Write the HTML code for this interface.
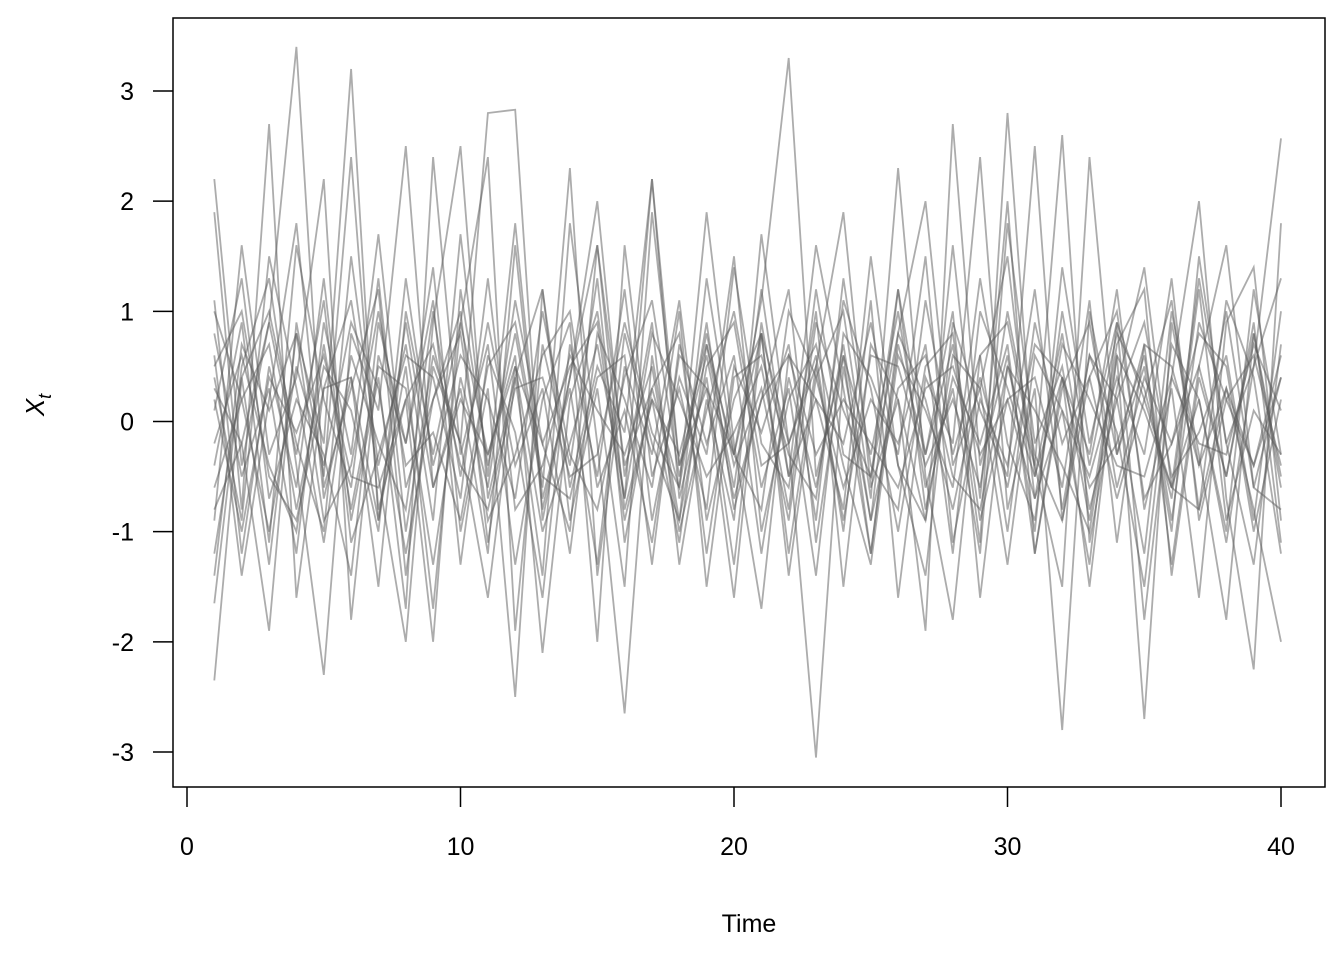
<!DOCTYPE html>
<html><head><meta charset="utf-8"><style>
body{margin:0;background:#fff}
svg text{font-family:"Liberation Sans",Arial,sans-serif;fill:#000}
</style></head><body>
<svg id="chart" width="1344" height="960">
<rect x="173" y="18" width="1152" height="769" fill="none" stroke="#000" stroke-width="1.5"/>
<g id="lines"></g>
<g id="axes"></g>
<text x="749" y="932" font-size="25" text-anchor="middle">Time</text>
<text transform="translate(44,405) rotate(-90)" font-size="26" text-anchor="middle"><tspan font-style="italic">X</tspan><tspan font-style="italic" font-size="18" dy="7">t</tspan></text>
</svg>
<script>
const xTicks=[0,10,20,30,40];
const yTicks=[-3,-2,-1,0,1,2,3];
const s1=[2.2,-0.4,0.9,3.4,-0.6,0.3,1.2,-1.4,0.5,-0.2,2.8,2.83,-0.9,0.4,1.6,-0.8,0.2,-1.1,0.7,-0.3,1.1,3.3,-0.5,0.6,-1.2,0.8,2.0,-0.4,0.3,1.5,-0.7,0.1,-1.3,0.9,0.2,-0.6,1.3,-0.2,0.5,2.57];
const s2=[-2.35,0.4,-1.3,0.8,-0.2,3.2,-0.9,0.5,-1.7,0.9,-0.3,0.6,-2.1,0.2,1.0,-0.7,2.2,-0.4,0.3,-1.6,0.8,-0.2,-3.05,0.5,-0.9,1.2,-0.3,0.7,-1.1,2.8,-0.5,0.4,-1.5,0.6,-2.7,0.9,-0.4,0.3,-0.8,-2.0];
const s3=[1.9,-0.8,2.7,-1.6,0.3,1.1,-0.5,-2.0,0.9,2.5,-0.7,0.4,-1.4,1.8,-0.2,-2.65,0.6,-0.9,1.3,-0.3,0.8,-1.2,0.5,1.9,-0.6,0.2,-1.9,2.7,-0.4,0.6,-1.0,1.4,-0.2,0.9,-1.8,0.4,2.0,-0.7,-2.25,1.8];
const s4=[-1.65,0.5,1.3,-0.4,-2.3,0.8,0.1,2.5,-0.6,0.3,-1.2,1.6,-0.8,0.4,2.0,-0.5,0.9,-1.3,0.2,-0.9,1.7,-0.2,0.6,-1.0,1.1,-1.6,0.4,-0.2,2.4,-0.8,0.3,-2.8,1.0,-0.3,0.7,-1.3,0.5,1.6,-0.6,0.4];
const s5=[0.6,-1.4,0.2,1.8,-0.7,0.4,-1.5,1.0,-0.3,0.9,2.4,-1.9,0.7,-0.4,1.3,-1.1,0.3,-0.6,1.9,-0.2,-1.7,0.6,0.2,-0.8,1.5,-0.4,-1.4,0.9,0.1,-0.5,2.5,-0.9,0.6,0.2,-1.2,1.0,-0.3,-1.8,0.8,-0.5];
const s6=[-0.9,1.6,-0.3,0.4,2.2,-1.8,0.6,-0.2,1.4,-1.0,0.3,-2.5,1.2,-0.6,0.5,-0.1,2.2,-0.7,0.4,-1.3,0.9,-0.5,1.6,0.3,-1.2,0.7,-0.3,1.0,-1.6,0.5,-0.4,2.6,-1.1,0.3,1.4,-0.6,0.2,-1.0,1.2,-0.3];
const s7=[0.3,-0.2,-1.9,0.9,-0.5,2.4,-0.8,0.2,-2.0,1.2,-0.4,0.8,-0.6,2.3,-1.4,0.5,-0.3,1.1,-0.9,0.2,0.8,-1.4,0.4,1.0,-0.7,2.3,-0.5,-1.8,0.6,0.9,-0.4,-1.5,2.4,-0.3,0.5,-1.0,1.5,-0.2,-1.3,0.7];
const s8=[1.1,-1.2,0.5,-0.6,1.3,-0.9,0.4,-1.7,2.4,-0.3,0.7,-1.3,0.2,0.9,-2.0,1.6,-0.5,0.3,-0.8,1.4,-0.2,-0.6,1.0,-1.5,0.7,0.2,-0.9,1.6,-0.7,2.0,-1.2,0.4,-0.3,1.2,-0.8,0.3,-1.6,0.9,1.4,-0.9];
const s9=[-0.4,0.9,-1.1,1.6,0.2,-0.6,1.3,-1.0,0.6,-0.2,-1.6,0.4,1.2,-0.9,0.3,-1.5,1.9,-0.4,0.6,-0.7,0.2,1.2,-1.1,0.6,-0.3,1.0,-0.6,0.3,-1.2,1.8,-0.2,0.5,-0.9,0.7,1.2,-1.4,0.4,-0.5,0.9,-1.1];
const s10=[0.8,-0.5,0.3,-1.2,0.9,-0.3,1.7,-0.6,0.2,1.0,-1.1,0.5,-0.2,-1.0,1.6,-0.4,0.3,0.8,-1.2,0.5,-0.1,0.7,-0.9,1.3,-0.4,-0.8,1.1,-0.3,0.6,-1.0,0.9,-0.2,0.4,-0.7,0.2,1.1,-0.8,0.3,-0.4,0.6];
const s11=[-1.2,0.4,1.0,-0.2,-1.0,1.5,-0.4,0.7,-0.9,1.7,-0.5,1.8,-0.7,0.3,-1.3,0.8,-0.2,-0.9,0.5,0.9,-0.6,0.3,-1.4,0.8,0.4,-0.3,1.5,-1.1,0.2,-0.4,1.2,-0.8,0.6,-0.1,-1.5,0.7,0.2,-1.1,0.5,1.3];
const s12=[0.1,1.3,-0.7,0.2,-0.3,-1.4,0.9,-0.2,1.1,-1.3,0.6,-0.1,-1.6,0.7,-0.5,1.2,-0.9,0.4,-0.3,1.5,-1.0,0.2,0.7,-0.4,-1.3,0.6,0.1,-0.6,1.3,-0.2,-0.9,1.0,-0.4,0.8,0.3,-0.7,1.2,-0.9,0.1,-0.3];
const s13=[-0.6,0.2,0.7,-0.8,0.5,0.1,-1.0,1.3,-0.4,0.6,0.2,-0.7,1.0,-0.3,-0.8,0.4,1.1,-0.5,0.8,-0.4,0.3,-0.9,0.9,0.1,-0.5,1.2,-0.8,0.4,-0.2,0.7,-1.2,0.3,0.9,-0.6,0.4,-0.2,0.8,0.5,-1.0,0.2];
const s14=[0.4,-0.9,1.5,0.3,-1.1,0.6,-0.2,-0.8,1.0,-0.5,0.9,-0.4,0.3,-1.2,0.8,0.2,-0.6,1.0,-1.5,0.4,0.6,-0.3,-0.7,1.1,0.3,-1.0,0.5,0.8,-0.9,0.2,0.4,-0.6,1.1,-1.1,0.7,0.5,-0.4,1.0,-0.6,-0.8];
const s15=[-0.2,0.6,-0.4,-1.0,0.7,-0.8,0.5,0.3,-1.3,0.4,-0.6,1.1,-0.2,0.5,0.9,-0.9,0.2,-0.3,0.7,-0.6,1.2,-0.5,0.2,-0.2,0.9,-0.4,-0.9,0.6,0.3,-1.3,0.6,0.1,-0.5,0.4,-0.3,1.3,-0.9,0.2,0.6,-0.4];
const s16=[1.0,0.2,-1.0,0.5,-0.4,0.9,0.3,-1.2,0.2,0.8,-0.9,-0.3,0.6,1.0,-0.6,0.1,-1.1,0.6,0.3,-0.3,-0.8,1.0,0.4,-0.6,0.2,-0.2,0.7,-1.2,1.0,0.3,-0.5,0.8,-0.8,0.2,0.9,-0.5,-0.1,0.6,-0.9,1.0];
const s17=[-0.8,-0.2,0.9,-0.3,1.1,-1.1,-0.3,0.6,0.4,-0.7,1.3,-0.8,-0.4,0.6,0.1,-0.3,0.5,-1.0,0.1,1.0,-0.4,-0.2,0.5,-0.9,0.6,0.5,-0.4,0.2,-0.6,1.0,-0.3,-0.9,0.4,1.0,-0.7,-0.2,0.5,-0.5,0.8,-0.6];
const s18=[0.5,1.0,-0.5,-0.9,0.3,0.4,-0.9,0.9,-0.6,0.2,-0.3,0.5,-1.0,-0.2,0.7,-0.7,0.8,0.2,-0.5,-0.1,0.5,-0.8,1.2,-0.3,-0.5,0.8,0.2,-0.8,0.4,-0.6,0.7,0.4,-0.6,-0.2,0.6,-0.9,0.9,0.2,-0.4,0.4];
const s19=[-1.4,0.7,0.1,0.8,-0.9,-0.4,1.0,-0.4,-0.1,-0.9,0.5,0.9,-0.5,-0.7,0.4,0.6,-1.3,0.7,-0.2,0.6,-1.2,0.4,-0.6,0.7,-0.9,0.3,0.6,-0.5,-0.8,0.5,0.1,-0.4,-1.0,0.6,0.1,-0.6,-0.8,1.1,0.4,-1.2];
const s20=[0.2,-1.0,0.4,-0.1,0.6,-0.5,-0.6,0.2,0.7,-0.4,-0.8,0.3,0.4,-0.5,-0.3,0.9,-0.1,-0.6,0.9,-0.8,0.2,0.6,-0.3,0.2,-0.2,-0.6,0.3,0.5,-0.3,0.2,-0.7,0.7,0.2,-0.4,-0.5,0.4,-0.2,-0.3,0.7,0.1];
const seriesList=[s1,s2,s3,s4,s5,s6,s7,s8,s9,s10,s11,s12,s13,s14,s15,s16,s17,s18,s19,s20];

const ns="http://www.w3.org/2000/svg";
const xs=t=>187+(t-0)*(1281-187)/40;
const ys=v=>421.5-v*(752-91)/6;
const lg=document.getElementById('lines');
seriesList.forEach((s,i)=>{
  const p=document.createElementNS(ns,'polyline');
  p.setAttribute('points',s.map((v,j)=>xs(j+1).toFixed(1)+','+ys(v).toFixed(1)).join(' '));
  p.setAttribute('fill','none');
  p.setAttribute('stroke','#5a5a5a');
  p.setAttribute('stroke-opacity','0.5');
  p.setAttribute('stroke-width','1.8');
  
  
  lg.appendChild(p);
});
const ax=document.getElementById('axes');
xTicks.forEach(t=>{
  const l=document.createElementNS(ns,'line');
  l.setAttribute('x1',xs(t));l.setAttribute('x2',xs(t));l.setAttribute('y1',787);l.setAttribute('y2',807);
  l.setAttribute('stroke','#000');l.setAttribute('stroke-width','1.5');
  
  
  ax.appendChild(l);
  const tx=document.createElementNS(ns,'text');
  tx.setAttribute('x',xs(t));tx.setAttribute('y',855);tx.setAttribute('font-size','25');tx.setAttribute('text-anchor','middle');
  tx.textContent=t;
  
  
  ax.appendChild(tx);
});
yTicks.forEach(t=>{
  const l=document.createElementNS(ns,'line');
  l.setAttribute('x1',153);l.setAttribute('x2',173);l.setAttribute('y1',ys(t));l.setAttribute('y2',ys(t));
  l.setAttribute('stroke','#000');l.setAttribute('stroke-width','1.5');
  
  
  ax.appendChild(l);
  const tx=document.createElementNS(ns,'text');
  tx.setAttribute('x',134);tx.setAttribute('y',ys(t)+9);tx.setAttribute('font-size','25');tx.setAttribute('text-anchor','end');
  tx.textContent=t;
  
  
  ax.appendChild(tx);
});
</script>
</body></html>
